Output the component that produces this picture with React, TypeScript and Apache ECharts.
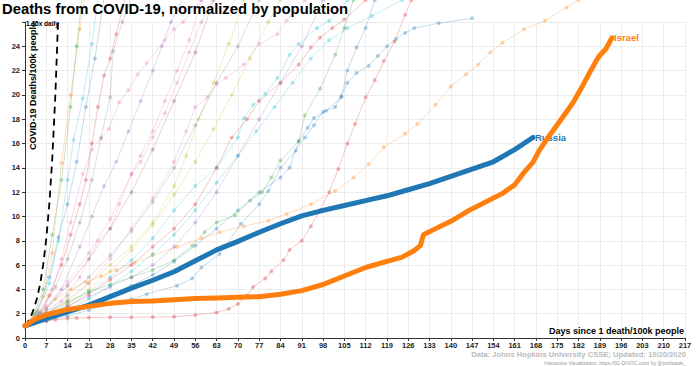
import React, { useEffect, useRef } from "react";
import * as echarts from "echarts";

const FONT = "'Liberation Sans', Arial, Helvetica, sans-serif";

type P = [number, number];

// Highlighted countries
const russia: P[] = [[0,1],[7,1.6],[14,2.15],[21,2.7],[28,3.4],[35,4.1],[42,4.75],[49,5.45],[56,6.35],[63,7.25],[70,7.95],[77,8.7],[84,9.4],[91,10.05],[98,10.5],[105,10.9],[112,11.3],[119,11.7],[126,12.2],[133,12.7],[140,13.3],[147,13.9],[154,14.5],[161,15.5],[167,16.5]];
const israel: P[] = [[0,1],[3,1.5],[7,1.9],[10,2.1],[14,2.35],[21,2.6],[28,2.85],[35,3.0],[42,3.05],[49,3.15],[56,3.25],[63,3.3],[70,3.35],[77,3.4],[84,3.6],[91,3.9],[98,4.4],[102,4.8],[105,5.1],[112,5.8],[119,6.3],[124,6.65],[128,7.2],[130,7.6],[131,8.5],[135,9.0],[140,9.6],[146,10.5],[150,11.0],[157,11.9],[161,12.6],[164,13.6],[167,14.45],[169,15.4],[172,16.5],[176,17.9],[180,19.3],[183,20.6],[186,22.0],[188.5,23.1],[191,23.8],[193,24.7]];

// 1.35x daily reference curve values
const ref135: P[] = [[0,1],[1,1.35],[2,1.82],[3,2.46],[4,3.32],[5,4.48],[6,6.05],[7,8.17],[8,11.03],[9,14.89],[10,20.11],[10.9,26.3]];

// Background countries
const bgA: P[] = [[0,1],[3,1.8],[6,3.4],[9,7],[12,14.4],[15,20],[18,25.4],[20,28.5]];
const bgB: P[] = [[0,1],[3,2],[6,4],[9,8.5],[12,13],[15,19],[17,24],[19,28.5]];
const bgC: P[] = [[0,1],[4,2],[8,4.5],[11,8],[14,13],[16,16.3],[19,19.7],[22,24.2],[24,28]];
const bgD: P[] = [[0,1],[4,2.2],[8,5],[11,8.3],[14,11],[17,14.5],[20,19],[23,23],[26,28]];
const bgE: P[] = [[0,1],[5,2],[9,4],[12,6.5],[15,9.5],[19,13.5],[22,15.5],[25,16.4],[27.5,17.2],[31,19.4],[34,20.4],[37,21.7],[40,22.6],[46,24.5],[49,25.4],[52,26],[58,27.8]];
const bgF: P[] = [[0,1],[4,1.8],[8,3.5],[12,6],[15,8.5],[18,11],[20,13],[22,16],[24,19],[26,21.6],[28,23],[30,25],[33,28]];
const bgG: P[] = [[0,1],[5,2],[10,4.2],[14,6.5],[18,9.5],[22,13],[25,16.5],[28,19.8],[29,23.6],[32,26],[35,28]];
const bgH: P[] = [[0,1],[6,2],[12,4],[18,7.5],[22,10],[26,12.5],[30,14.5],[34,17],[38,19.5],[42,22],[45,24],[48,26],[52,28]];
const bgI: P[] = [[0,1],[6,1.8],[12,3],[18,5],[24,8],[28,9],[31,11],[35,13.5],[38,14.5],[42,16.5],[46,18.5],[50,21],[54,23.5],[58,26],[62,28]];
const bgJ: P[] = [[0,1],[7,2],[14,3.2],[21,4.5],[28,6],[35,7.5],[42,9.5],[49,12.5],[53,15],[57,18],[62,21],[67,24.2],[72,27.8]];
const bgK: P[] = [[0,1],[7,1.8],[14,2.8],[21,3.8],[28,5],[35,6.4],[42,8.2],[49,10.5],[56,12.5],[63,14],[70,16.5],[72,18.1],[75,19.2],[79,20.1],[83,21.4],[87,23.3],[90,24.2],[96,25.5],[100,26.1],[106,27.8]];
const bgL: P[] = [[0,1],[7,1.7],[14,2.6],[21,3.6],[28,4.8],[35,6],[42,7.5],[49,9],[56,11],[63,14],[68,16.5],[73,18],[77,19.5],[84,21],[90,22.5],[94,23.9],[97,24.7],[101,25.5],[105,26.2],[112,27.8]];
const bgM: P[] = [[0,1],[7,2],[14,3],[21,4.5],[28,6.5],[35,9],[42,11.5],[49,14.5],[53,17],[56,19],[60,19.8],[63,20.9],[66,21.4],[72,22.5],[77,24.2],[83,25],[86,26.1],[92,27.8]];
const bgN: P[] = [[0,1],[7,1.4],[14,1.8],[21,2.3],[28,2.8],[35,3.2],[40,3.6],[50,4.3],[55,4.9],[58,5.8],[64,6.9],[71,9.4],[77,11],[80,12.1],[84,14],[89,15.4],[92,16.5],[95,17.5],[98,18.6],[102,19],[104,19.9],[106,21],[109,21.8],[113,22.4],[116,23.2],[119,24],[122,24.6],[125,25.1],[128,25.5],[136,25.9],[147,26.3]];
const bgO: P[] = [[0,1],[7,1.5],[14,2.1],[21,2.8],[28,3.5],[35,4.3],[42,5.2],[49,6.3],[56,7.6],[63,9],[70,10.5],[77,12],[84,13.2],[87,14],[90,16.2],[93,17.3],[95,18.1],[99,18.7],[104,19.8],[106,22],[109,23.9],[112,25.5],[115,27.8]];
const bgP: P[] = [[0,1],[7,2],[14,3],[21,3.8],[28,4.4],[35,5],[42,5.6],[49,6.4],[55,7.6],[59,8.7],[63,9.5],[69,10.1],[74,11.3],[78,12],[81,13.2],[84,14.6],[90,16.2],[92,18.3],[97,20.5],[102,23.3],[105,25.5],[108,27.8]];
const bgQ: P[] = [[0,1],[5,2.2],[10,3.2],[15,4],[20,4.6],[25,5.1],[30,5.6],[36,6.2],[42,6.8],[50,7.5],[58,8.2],[64,8.7],[72,9.2],[80,9.65],[86,10.2],[94,11],[102,12.1],[108,13.2],[113,14.3],[118,15.7],[125,16.8],[129,17.6],[135,19.2],[140,20.7],[145,21.7],[149,22.5],[153,23.5],[157,24.3],[164,25.4],[171,26.1],[178,27.2],[182,27.8]];
const bgR: P[] = [[0,1],[3,1.2],[7,1.4],[10,1.5],[14,1.6],[17,1.65],[21,1.68],[28,1.7],[35,1.7],[42,1.72],[49,1.75],[56,1.9],[63,2.1],[67,2.4],[70,2.8],[73,3.5],[75,4.2],[79,4.9],[81,5.5],[85,6.4],[87,7.25],[91,8],[94,9.2],[97,10.5],[100,12],[103,13.9],[106,16],[108.5,17.6],[112,19.8],[115,21.2],[118,22.8],[121.5,24.4],[125,26.6],[127,27.8]];
const bgS: P[] = [[0,1],[7,1.8],[14,2.6],[21,3.4],[28,4.2],[35,5],[42,6],[49,7.5],[56,9.5],[63,12],[70,15],[77,18],[84,21],[91,24],[98,27.8]];
const bgT: P[] = [[0,1],[7,2.2],[14,3.5],[21,5],[28,6.8],[35,8.8],[42,11.2],[49,14],[56,17.5],[63,21],[70,24],[77,27.8]];
const bgU: P[] = [[0,1],[7,2.4],[14,4.3],[21,6.5],[28,9],[35,12],[42,15.5],[49,19.5],[56,23.5],[62,27.8]];
const bgV: P[] = [[0,1],[7,1.8],[14,2.8],[21,4],[28,5.5],[35,7.2],[42,9.3],[49,11.8],[56,14.5],[62,17.2],[68,20],[74,23],[80,26],[84,27.8]];
const bgW: P[] = [[0,1],[7,1.6],[14,2.3],[21,3.2],[28,4.3],[35,5.5],[42,6.9],[49,8.5],[56,10.5],[63,12.8],[70,15],[76,17],[82,19],[88,21],[94,23],[100,24.5],[106,25.5],[114,26.5],[124,27.8]];
const bgX: P[] = [[0,1],[7,2.6],[14,4.6],[21,7],[28,9.8],[35,13.5],[38,15],[42,17],[46,19.5],[50,22],[54,24.5],[58,27.8]];

const background: P[][] = [bgA, bgB, bgC, bgD, bgE, bgF, bgG, bgH, bgI, bgJ, bgK, bgL, bgM, bgN, bgO, bgP, bgQ, bgR, bgS, bgT, bgU, bgV, bgW, bgX];
const bgColors = ["#ff7f0e", "#2ca02c", "#17becf", "#1f77b4", "#e377c2", "#d62728", "#7f7f7f", "#9467bd", "#e377c2", "#bcbd22", "#17becf", "#d62728", "#e377c2", "#1f77b4", "#1f77b4", "#2ca02c", "#ff7f0e", "#d62728", "#9467bd", "#7f7f7f", "#8c564b", "#bcbd22", "#17becf", "#e377c2"];

const TITLE = "Deaths from COVID-19, normalized by population";
const Y_TITLE = "COVID-19 Deaths/100k people";
const X_TITLE = "Days since 1 death/100k people";
const REF_LABEL = "1.35x daily";
const CREDIT = "Data: Johns Hopkins University CSSE; Updated: 10/20/2020";
const CREDIT2 = "Interactive Visualization: https://91-DIVOC.com/ by @profwade_";

export default function App() {
  const ref = useRef<HTMLDivElement>(null);
  useEffect(() => {
    if (!ref.current) return;
    const chart = echarts.init(ref.current, undefined, { renderer: "svg" });
    const bgSeries = background.map((d, i) => ({
      type: "line",
      data: d,
      clip: false,
      silent: true,
      symbol: "circle",
      symbolSize: 4,
      showSymbol: true,
      z: 1,
      lineStyle: { width: 1, color: bgColors[i], opacity: 0.26 },
      itemStyle: { color: bgColors[i], opacity: 0.32 },
    }));
    chart.setOption({
      animation: false,
      textStyle: { fontFamily: FONT },
      grid: { left: 25, right: 15, top: 22, bottom: 28, containLabel: false },
      xAxis: {
        type: "value",
        min: 0,
        max: 217,
        interval: 7,
        axisLine: { show: true, lineStyle: { color: "#333", width: 1 } },
        axisTick: { show: true, length: 3, lineStyle: { color: "#333" } },
        axisLabel: { fontSize: 7.5, fontWeight: "bold", color: "#222", margin: 3, fontFamily: FONT },
        splitLine: { show: true, lineStyle: { color: "#ededed", width: 1 } },
      },
      yAxis: {
        type: "value",
        min: 0,
        max: 26,
        interval: 2,
        axisLine: { show: true, lineStyle: { color: "#333", width: 1 } },
        axisTick: { show: true, length: 3, lineStyle: { color: "#333" } },
        axisLabel: {
          fontSize: 7.5,
          fontWeight: "bold",
          color: "#222",
          margin: 5,
          fontFamily: FONT,
          formatter: (v: number) => (v >= 26 ? "" : String(v)),
        },
        splitLine: { show: true, lineStyle: { color: "#ededed", width: 1 } },
      },
      series: [
        ...bgSeries,
        {
          type: "line",
          data: ref135,
          clip: false,
          silent: true,
          symbol: "none",
          z: 3,
          lineStyle: { color: "#000", width: 1.8, type: [7, 5] },
        },
        {
          name: "Russia",
          type: "line",
          data: russia,
          clip: false,
          symbol: "none",
          z: 5,
          lineStyle: { color: "#1f77b4", width: 5, cap: "round", join: "round" },
          itemStyle: { color: "#1f77b4" },
          endLabel: {
            show: true,
            formatter: "Russia",
            color: "#1f77b4",
            fontWeight: "bold",
            fontSize: 9.5,
            fontFamily: FONT,
            distance: 2,
          },
        },
        {
          name: "Israel",
          type: "line",
          data: israel,
          clip: false,
          symbol: "none",
          z: 6,
          lineStyle: { color: "#ff7f0e", width: 5, cap: "round", join: "round" },
          itemStyle: { color: "#ff7f0e" },
          endLabel: {
            show: true,
            formatter: "Israel",
            color: "#ff7f0e",
            fontWeight: "bold",
            fontSize: 9.5,
            fontFamily: FONT,
            distance: 2,
          },
        },
      ],
      graphic: [
        {
          type: "text",
          x: 2,
          y: 8.7,
          z: 100,
          style: { text: TITLE, font: `bold 14.8px ${FONT}`, fill: "#000", align: "left", verticalAlign: "middle" },
        },
        {
          type: "text",
          x: 33,
          y: 86,
          rotation: Math.PI / 2,
          z: 100,
          style: { text: Y_TITLE, font: `bold 9px ${FONT}`, fill: "#000", align: "center", verticalAlign: "middle" },
        },
        {
          type: "text",
          x: 26,
          y: 23,
          z: 100,
          style: { text: REF_LABEL, font: `bold 6.5px ${FONT}`, fill: "#000", align: "left", verticalAlign: "middle" },
        },
        {
          type: "text",
          x: 684,
          y: 331,
          z: 100,
          style: { text: X_TITLE, font: `bold 9px ${FONT}`, fill: "#000", align: "right", verticalAlign: "middle" },
        },
        {
          type: "text",
          x: 686,
          y: 354,
          z: 100,
          style: { text: CREDIT, font: `bold 7.6px ${FONT}`, fill: "#bbbbbb", align: "right", verticalAlign: "middle" },
        },
        {
          type: "text",
          x: 686,
          y: 362.5,
          z: 100,
          style: { text: CREDIT2, font: `5px ${FONT}`, fill: "#999999", align: "right", verticalAlign: "middle" },
        },
      ],
    });
    return () => chart.dispose();
  }, []);
  return (
    <div
      ref={ref}
      style={{ position: "absolute", left: 0, top: 0, width: 700, height: 366, background: "#fff" }}
    />
  );
}
